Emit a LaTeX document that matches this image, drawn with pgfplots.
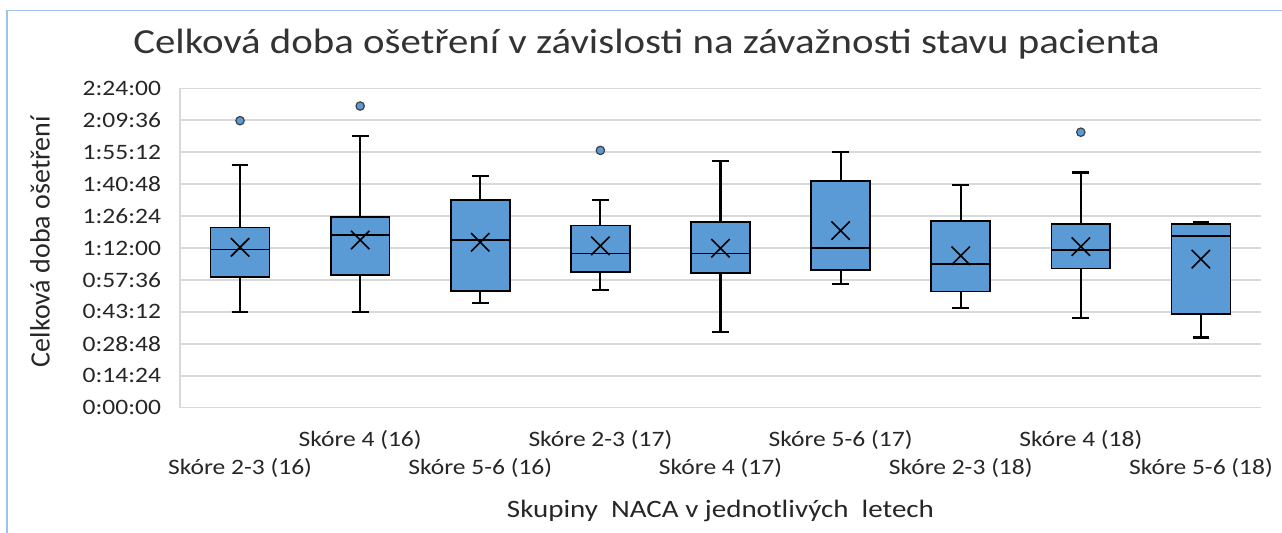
\documentclass[border=0pt]{standalone}
\usepackage{fontspec}
\setmainfont{Carlito}[FakeStretch=1.16]
\newfontfamily\ylabfont{Carlito}
\usepackage{pgfplots}
\pgfplotsset{compat=1.18}
\usepgfplotslibrary{statistics}
\definecolor{boxblue}{HTML}{5B9BD5}
\definecolor{gridgray}{HTML}{D9D9D9}
\definecolor{frameblue}{HTML}{9DC3E6}

\begin{document}
\begin{tikzpicture}
\path[use as bounding box] (-90pt,-62.65pt) rectangle (551pt,203.85pt);
\draw[frameblue, line width=0.8pt] (-86.5pt,-62.65pt) -- (-86.5pt,198.6pt) -- (551pt,198.6pt);
\begin{axis}[
  at={(0,0)}, anchor=south west,
  scale only axis, width=540.5pt, height=159.7pt,
  xmin=0.5, xmax=9.5, ymin=0, ymax=144,
  axis x line*=bottom, axis y line*=left,
  axis line style={gridgray, line width=0.75pt},
  major tick length=0pt,
  ymajorgrids, grid style={gridgray, line width=0.75pt},
  ytick={0,14.4,28.8,43.2,57.6,72,86.4,100.8,115.2,129.6,144},
  yticklabels={0:00:00,0:14:24,0:28:48,0:43:12,0:57:36,1:12:00,1:26:24,1:40:48,1:55:12,2:09:36,2:24:00},
  yticklabel style={font=\fontsize{11}{13}\selectfont, anchor=east, xshift=-6pt, text=black!85},
  xtick={1,2,3,4,5,6,7,8,9},
  xticklabels={{\strut\\Skóre 2-3 (16)},{\strut Skóre 4 (16)},{\strut\\Skóre 5-6 (16)},
    {\strut Skóre 2-3 (17)},{\strut\\Skóre 4 (17)},{\strut Skóre 5-6 (17)},
    {\strut\\Skóre 2-3 (18)},{\strut Skóre 4 (18)},{\strut\\Skóre 5-6 (18)}},
  xticklabel style={font=\fontsize{11}{14}\selectfont, align=center, anchor=north, yshift=-6pt, text=black!85},
  title={Celková doba ošetření v závislosti na závažnosti stavu pacienta},
  title style={at={(axis description cs:0.4316,1.100)}, anchor=center, font=\fontsize{17.6}{20}\selectfont, text=black!80},
  xlabel={Skupiny\ \ NACA v jednotlivých\ \ letech},
  xlabel style={at={(axis description cs:0.5,-0.322)}, anchor=center, font=\fontsize{12.5}{15}\selectfont, text=black!85},
  ylabel={\ylabfont Celková doba ošetření},
  ylabel style={at={(axis description cs:-0.1295,0.52)}, anchor=center, font=\fontsize{14}{16}\selectfont, text=black!85},
  boxplot/draw direction=y,
  boxplot/box extend=0.49,
  boxplot/whisker extend=0.14,
  boxplot/every box/.style={draw=black, fill=boxblue, line width=0.8pt},
  boxplot/every whisker/.style={draw=black, line width=1.1pt},
  boxplot/every median/.style={draw=black, line width=0.8pt},
  boxplot/every average/.style={/tikz/mark=x, /tikz/mark size=6.5pt, /tikz/mark options={draw=black, line width=0.8pt}},
  clip=false,
]
\pgfplotsset{mybox/.style={draw=black, fill=boxblue, line width=0.8pt, mark=*, mark size=2.1pt, mark options={fill=boxblue, draw=black!75, line width=0.6pt}}}
\addplot[mybox, boxplot prepared={draw position=1, lower whisker=43.3, lower quartile=58.8, median=71.4, upper quartile=81.3, upper whisker=109.3, average=72.3}]
  table[row sep=\\, y index=0] {129.4\\};
\addplot[mybox, boxplot prepared={draw position=2, lower whisker=43.3, lower quartile=59.8, median=77.9, upper quartile=86.1, upper whisker=122.6, average=75.6}]
  table[row sep=\\, y index=0] {136.0\\};
\addplot[mybox, boxplot prepared={draw position=3, lower whisker=47.3, lower quartile=52.5, median=75.5, upper quartile=93.6, upper whisker=104.5, average=74.6}]
  coordinates {};
\addplot[mybox, boxplot prepared={draw position=4, lower whisker=53.1, lower quartile=61.3, median=69.6, upper quartile=82.1, upper whisker=93.6, average=73.0}]
  table[row sep=\\, y index=0] {116.0\\};
\addplot[mybox, boxplot prepared={draw position=5, lower whisker=34.0, lower quartile=60.6, median=69.6, upper quartile=83.6, upper whisker=111.1, average=71.9}]
  coordinates {};
\addplot[mybox, boxplot prepared={draw position=6, lower whisker=55.6, lower quartile=62.1, median=72.1, upper quartile=102.1, upper whisker=115.3, average=79.8}]
  coordinates {};
\addplot[mybox, boxplot prepared={draw position=7, lower whisker=44.8, lower quartile=52.3, median=64.8, upper quartile=84.3, upper whisker=100.3, average=68.5}]
  coordinates {};
\addplot[mybox, boxplot prepared={draw position=8, lower whisker=40.6, lower quartile=62.8, median=71.2, upper quartile=82.8, upper whisker=106.0, average=72.6}]
  table[row sep=\\, y index=0] {124.2\\};
\addplot[mybox, boxplot prepared={draw position=9, lower whisker=31.6, lower quartile=42.2, median=77.3, upper quartile=82.8, upper whisker=83.6, average=67.0}]
  coordinates {};
\end{axis}
\end{tikzpicture}
\end{document}
